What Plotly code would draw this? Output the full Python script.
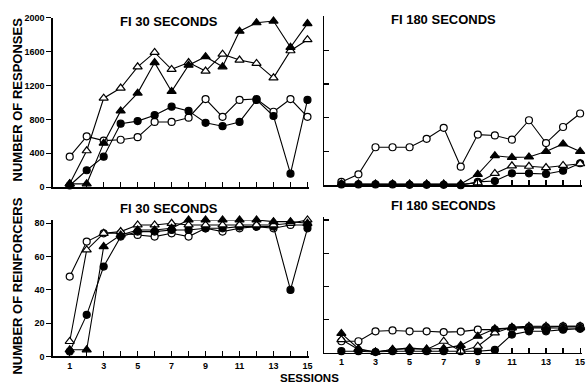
import plotly.graph_objects as go

W, H = 586, 391

sessions = list(range(1, 16))

# Top-left: FI 30 seconds, number of responses
resp30_open_circle = [360, 600, 550, 560, 590, 770, 770, 820, 1040, 830, 1030, 1040, 890, 1040, 830]
resp30_filled_circle = [20, 200, 360, 750, 780, 850, 950, 900, 760, 720, 770, 1030, 840, 160, 1030]
resp30_open_tri = [40, 430, 1050, 1170, 1420, 1590, 1390, 1470, 1370, 1570, 1500, 1460, 1290, 1610, 1740]
resp30_filled_tri = [40, 40, 520, 900, 1110, 1470, 1130, 1440, 1540, 1420, 1840, 1940, 1960, 1650, 1930]

# Top-right: FI 180 seconds, number of responses
resp180_open_circle = [40, 130, 450, 450, 450, 550, 680, 220, 600, 590, 540, 770, 500, 690, 850]
resp180_filled_tri = [15, 15, 15, 15, 15, 15, 15, 15, 130, 350, 330, 335, 400, 490, 400]
resp180_open_tri = [10, 10, 10, 10, 10, 10, 10, 10, 30, 140, 230, 225, 210, 235, 255]
resp180_filled_circle = [10, 10, 10, 10, 5, 5, 5, 0, 40, 50, 141, 141, 134, 172, 261]

# Bottom-left: FI 30 seconds, number of reinforcers
reinf30_open_circle = [48, 69, 74, 74, 73, 72, 74, 72, 77, 75, 77, 78, 77, 79, 79]
reinf30_filled_circle = [3, 25, 54, 72, 75, 75, 76, 76, 77, 77, 78, 78, 78, 40, 77]
reinf30_open_tri = [9, 64, 74, 75, 79, 79, 80, 79, 79, 79, 79, 79, 79, 80, 82]
reinf30_filled_tri = [4, 4, 66, 73, 76, 76, 77, 82, 82, 82, 82, 82, 81, 81, 80]

# Bottom-right: FI 180 seconds, number of reinforcers
reinf180_open_circle = [7, 7, 13, 13.5, 13, 13, 12.5, 12.8, 14, 14, 15, 15.5, 15.5, 16, 16]
reinf180_filled_tri = [11.7, 2.5, 0.5, 2, 2.5, 2.3, 2.7, 4.5, 10, 14.5, 15, 15, 15, 15, 15]
reinf180_open_tri = [8, 2, 0.5, 2, 3, 2, 7, 1, 4, 12, 15.5, 16, 16, 16, 16]
reinf180_filled_circle = [1, 1, 0.5, 1, 1, 1, 1, 1, 1, 1.8, 11, 13, 13, 14, 14.5]

resp_ticks = [0, 400, 800, 1200, 1600, 2000]
reinf_ticks = [0, 20, 40, 60, 80]
session_ticktext = [str(s) if s % 2 == 1 else "" for s in sessions]

FONT = "Liberation Sans, Arial, sans-serif"

styles = {
    "open_circle": dict(symbol="circle", size=7, color="white", line=dict(color="black", width=1.2)),
    "filled_circle": dict(symbol="circle", size=7, color="black", line=dict(color="black", width=1.2)),
    "open_tri": dict(symbol="triangle-up", size=8, color="white", line=dict(color="black", width=1.2)),
    "filled_tri": dict(symbol="triangle-up", size=8, color="black", line=dict(color="black", width=1.2)),
}

fig = go.Figure()

panels = [
    ("x", "y", [("open_circle", resp30_open_circle), ("filled_circle", resp30_filled_circle),
                ("open_tri", resp30_open_tri), ("filled_tri", resp30_filled_tri)]),
    ("x2", "y2", [("open_circle", resp180_open_circle), ("filled_circle", resp180_filled_circle),
                  ("open_tri", resp180_open_tri), ("filled_tri", resp180_filled_tri)]),
    ("x3", "y3", [("open_circle", reinf30_open_circle), ("filled_circle", reinf30_filled_circle),
                  ("open_tri", reinf30_open_tri), ("filled_tri", reinf30_filled_tri)]),
    ("x4", "y4", [("open_circle", reinf180_open_circle), ("filled_circle", reinf180_filled_circle),
                  ("open_tri", reinf180_open_tri), ("filled_tri", reinf180_filled_tri)]),
]

for xa, ya, series in panels:
    for kind, vals in series:
        fig.add_trace(go.Scatter(
            x=sessions, y=vals, xaxis=xa, yaxis=ya, mode="lines+markers",
            line=dict(color="black", width=1.1), marker=styles[kind],
            cliponaxis=False, showlegend=False, hoverinfo="skip"))

def px_x(p):
    return p / W

def px_y(p):
    return 1 - p / H

xl = [px_x(53), px_x(53 + 15.1 * 17.07)]
xr = [px_x(326), px_x(326 + 15.1 * 17.14)]

common_x = dict(range=[0, 15.1], showline=True, linecolor="black", linewidth=1.5,
                ticks="inside", ticklen=5, tickwidth=1.2, tickcolor="black",
                tickvals=sessions, showgrid=False, zeroline=False, fixedrange=True)
common_y = dict(showline=True, linecolor="black", linewidth=1.5, ticklen=5, tickwidth=1.2,
                tickcolor="black", showgrid=False, zeroline=False, fixedrange=True)
tickfont = dict(family=FONT, size=9, color="black", weight="bold")

fig.update_layout(
    width=W, height=H, margin=dict(l=0, r=0, t=0, b=0),
    paper_bgcolor="white", plot_bgcolor="white", showlegend=False,
    xaxis=dict(**common_x, domain=xl, anchor="y", showticklabels=False),
    xaxis2=dict(**common_x, domain=xr, anchor="y2", showticklabels=False),
    xaxis3=dict(**common_x, domain=xl, anchor="y3", ticktext=session_ticktext, tickfont=tickfont),
    xaxis4=dict(**common_x, domain=xr, anchor="y4", ticktext=session_ticktext, tickfont=tickfont),
    yaxis=dict(**common_y, domain=[px_y(187), px_y(13)], range=[0, 2000], anchor="x",
               ticks="outside", tickvals=resp_ticks, tickfont=tickfont),
    yaxis2=dict(**common_y, domain=[px_y(185), px_y(11.7)], range=[0, 2000], anchor="x2",
                ticks="inside", tickvals=resp_ticks, showticklabels=False),
    yaxis3=dict(**common_y, domain=[px_y(360.7), px_y(220.6)], range=[0, 82], anchor="x3",
                ticks="outside", tickvals=reinf_ticks, tickfont=tickfont),
    yaxis4=dict(**common_y, domain=[px_y(357), px_y(217.3)], range=[0, 82], anchor="x4",
                ticks="inside", tickvals=reinf_ticks, showticklabels=False),
)

def label(text, x, y, size, angle=0):
    fig.add_annotation(text=text, x=px_x(x), y=px_y(y), xref="paper", yref="paper",
                       xanchor="center", yanchor="middle", showarrow=False, textangle=angle,
                       font=dict(family=FONT, size=size, color="black", weight="bold"))

label("FI 30 SECONDS", 170, 17, 13)
label("FI 180 SECONDS", 446, 15, 13)
label("FI 30 SECONDS", 170, 209, 13)
label("FI 180 SECONDS", 446, 206, 13)
label("NUMBER OF RESPONSES", 18, 97, 13, angle=-90)
label("NUMBER OF REINFORCERS", 18, 288, 13, angle=-90)
label("SESSIONS", 311, 383, 11.5)

fig.write_html(
    "out.html",
    config={"displayModeBar": False, "staticPlot": True},
    post_script="document.body.style.margin='0';document.body.style.padding='0';document.body.style.overflow='hidden';",
)
